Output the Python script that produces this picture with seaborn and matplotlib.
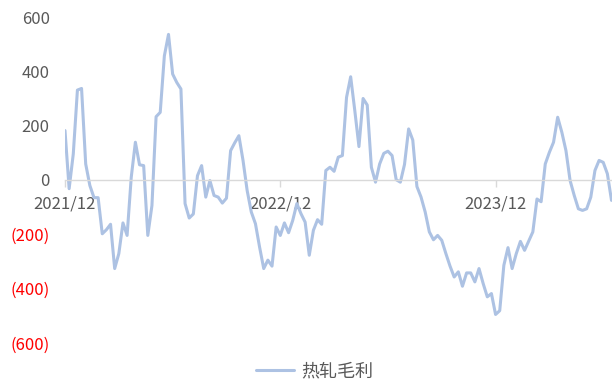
import numpy as np
import pandas as pd
import matplotlib
matplotlib.use("Agg")
import matplotlib.pyplot as plt
import matplotlib.dates as mdates
import seaborn as sns

# ---- data (weekly hot-rolled gross margin) ----
start_date = "2021-12-03"
margin = [
    182, -32, 96, 331, 337, 59, -20, -65, -65, -198,
    -183, -163, -326, -271, -158, -204, 10, 139, 56, 53,
    -204, -94, 233, 249, 457, 536, 390, 359, 335, -87,
    -140, -125, 16, 53, -63, -2, -57, -63, -85, -67,
    108, 137, 163, 72, -39, -118, -161, -247, -326, -295,
    -317, -173, -204, -158, -194, -149, -87, -124, -155, -277,
    -185, -146, -163, 35, 47, 32, 84, 90, 304, 380,
    255, 123, 300, 276, 47, -8, 59, 98, 106, 90,
    1, -8, 57, 188, 147, -24, -63, -118, -191, -220,
    -204, -222, -271, -317, -357, -338, -391, -342, -342, -375,
    -326, -381, -430, -418, -495, -481, -314, -249, -326, -271,
    -226, -259, -225, -191, -70, -80, 59, 102, 139, 231,
    176, 108, -2, -57, -106, -112, -106, -63, 35, 72,
    65, 23, -75,
]
series_name = "热轧毛利"
x_tick_labels = ["2021/12", "2022/12", "2023/12"]
x_tick_index = [0, 52, 104]
y_ticks = [600, 400, 200, 0, -200, -400, -600]

dates = pd.date_range(start_date, periods=len(margin), freq="7D")
df = pd.DataFrame({"date": dates, series_name: margin})

sns.set_theme(style="white")
plt.rcParams["font.family"] = ["Noto Sans CJK SC", "DejaVu Sans"]

fig = plt.figure(figsize=(6.12, 3.81), dpi=100)
ax = fig.add_axes([65 / 612, 1 - 343 / 381, (611.5 - 65) / 612, (343 - 17) / 381])

line_color = "#adc2e3"
sns.lineplot(data=df, x="date", y=series_name, ax=ax, color=line_color,
             linewidth=2.2, label=series_name, legend=False)

ax.set_xlim(dates[0], dates[-1])
ax.set_ylim(-600, 600)
ax.set_xlabel("")
ax.set_ylabel("")

# spines
for s in ["top", "right", "left"]:
    ax.spines[s].set_visible(False)
ax.spines["bottom"].set_position(("data", 0))
ax.spines["bottom"].set_color("#d9d9d9")
ax.spines["bottom"].set_linewidth(1.0)

# x ticks
ax.set_xticks([dates[i] for i in x_tick_index])
ax.set_xticklabels(x_tick_labels)
ax.tick_params(axis="x", which="major", direction="out", length=5, width=1,
               color="#d9d9d9", labelcolor="#595959", labelsize=12, pad=6,
               bottom=True)

# y ticks
def fmt(v):
    return f"{v:d}" if v >= 0 else f"({-v:d})"

ax.set_yticks(y_ticks)
ax.set_yticklabels([fmt(v) for v in y_ticks])
ax.tick_params(axis="y", length=0, labelsize=12, pad=11)
for lab, v in zip(ax.get_yticklabels(), y_ticks):
    lab.set_color("#ff0000" if v < 0 else "#595959")

ax.grid(False)

h, l = ax.get_legend_handles_labels()
fig.legend(h, l, loc="center", bbox_to_anchor=(315 / 612, 1 - 371 / 381),
           frameon=False, fontsize=13, handlelength=2.1, handletextpad=0.4,
           labelcolor="#595959")

fig.savefig("out.png", dpi=100)
